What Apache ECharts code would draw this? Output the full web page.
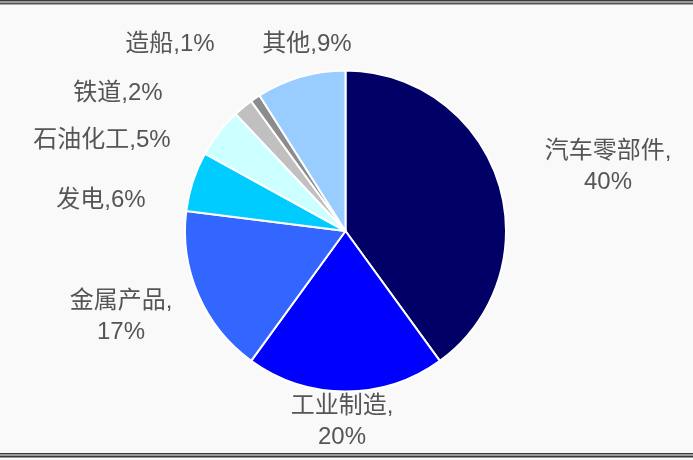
<!DOCTYPE html>
<html>
<head>
<meta charset="utf-8">
<script src="https://cdn.jsdelivr.net/npm/echarts@6/dist/echarts.min.js"></script>
<style>
  html, body { margin: 0; padding: 0; background: #f9f9f9; }
  #chart { width: 693px; height: 460px; }
</style>
</head>
<body>
<div id="chart"></div>
<script>
// ---- data ----
const categories = ['汽车零部件', '工业制造', '金属产品', '发电', '石油化工', '铁道', '造船', '其他'];
const values = [40, 20, 17, 6, 5, 2, 1, 9];

// ---- styles / layout (not data) ----
const colors = ['#000066', '#0000FF', '#3366FF', '#00CCFF', '#CCFFFF', '#C0C0C0', '#8C8C8C', '#99CCFF'];
// label anchor centres (pixels) chosen to match reference placement
const labelAnchors = [[608, 167], [342, 422], [121, 317], [101, 200], [102, 140], [118, 93], [170, 44], [307, 44]];

const chart = echarts.init(document.getElementById('chart'), null, { renderer: 'canvas' });

const seriesData = categories.map((name, i) => ({
  name: name,
  value: values[i],
  itemStyle: { color: colors[i] }
}));

chart.setOption({
  backgroundColor: '#f9f9f9',
  animation: false,
  graphic: [
    { type: 'rect', shape: { x: 0, y: 0, width: 693, height: 1.5 }, style: { fill: '#3a3a3a' }, silent: true },
    { type: 'rect', shape: { x: 0, y: 3, width: 693, height: 1.5 }, style: { fill: '#555555' }, silent: true },
    { type: 'rect', shape: { x: 0, y: 1.5, width: 693, height: 1.5 }, style: { fill: '#9a9a9a' }, silent: true },
    { type: 'rect', shape: { x: 0, y: 453, width: 693, height: 1.5 }, style: { fill: '#3a3a3a' }, silent: true },
    { type: 'rect', shape: { x: 0, y: 454.5, width: 693, height: 1.5 }, style: { fill: '#9a9a9a' }, silent: true },
    { type: 'rect', shape: { x: 0, y: 456, width: 693, height: 1.5 }, style: { fill: '#3a3a3a' }, silent: true }
  ],
  series: [{
    type: 'pie',
    center: [345.5, 231],
    radius: 160.5,
    startAngle: 90,
    clockwise: true,
    data: seriesData,
    itemStyle: { borderColor: '#ffffff', borderWidth: 2 },
    emphasis: { disabled: true },
    label: {
      show: true,
      position: 'outside',
      color: '#555555',
      fontSize: 24,
      lineHeight: 31,
      fontFamily: '"Liberation Sans", Arial, "Noto Sans CJK SC", sans-serif',
      align: 'center',
      formatter: function (p) {
        return p.value >= 10 ? p.name + ',\n' + p.value + '%' : p.name + ',' + p.value + '%';
      }
    },
    labelLine: { show: false },
    labelLayout: function (params) {
      const a = labelAnchors[params.dataIndex];
      return { x: a[0], y: a[1], align: 'center', verticalAlign: 'middle', hideOverlap: false, moveOverlap: false };
    }
  }]
});
</script>
</body>
</html>
